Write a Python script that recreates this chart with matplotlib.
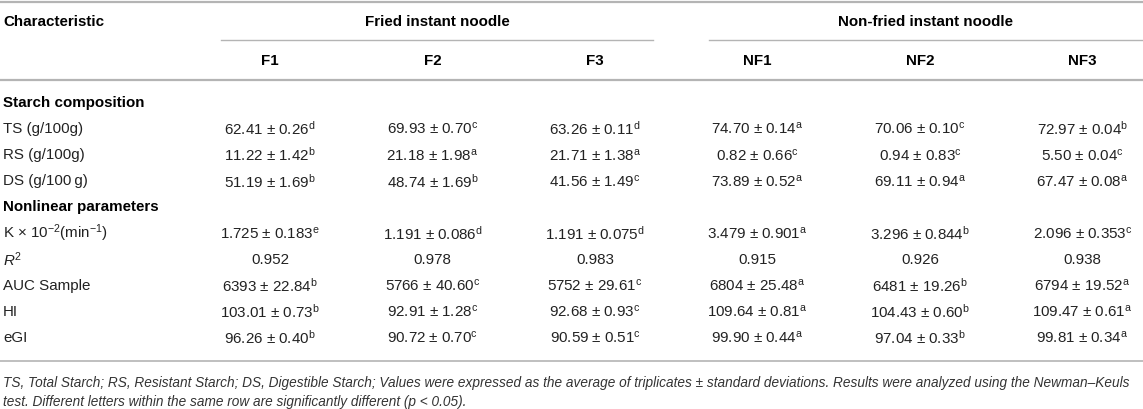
import matplotlib
matplotlib.use('Agg')
import matplotlib.pyplot as plt

plt.rcParams['font.family'] = ['Liberation Sans', 'DejaVu Sans']
plt.rcParams['mathtext.fontset'] = 'custom'
plt.rcParams['mathtext.rm'] = 'Liberation Sans'
plt.rcParams['mathtext.it'] = 'Liberation Sans:italic'
plt.rcParams['mathtext.bf'] = 'Liberation Sans:bold'

# Table data
columns = ['F1', 'F2', 'F3', 'NF1', 'NF2', 'NF3']
groups = ['Fried instant noodle', 'Non-fried instant noodle']

ts_mean = [62.41, 69.93, 63.26, 74.70, 70.06, 72.97]
ts_sd = [0.26, 0.70, 0.11, 0.14, 0.10, 0.04]
ts_sig = ['d', 'c', 'd', 'a', 'c', 'b']

rs_mean = [11.22, 21.18, 21.71, 0.82, 0.94, 5.50]
rs_sd = [1.42, 1.98, 1.38, 0.66, 0.83, 0.04]
rs_sig = ['b', 'a', 'a', 'c', 'c', 'c']

ds_mean = [51.19, 48.74, 41.56, 73.89, 69.11, 67.47]
ds_sd = [1.69, 1.69, 1.49, 0.52, 0.94, 0.08]
ds_sig = ['b', 'b', 'c', 'a', 'a', 'a']

k_mean = [1.725, 1.191, 1.191, 3.479, 3.296, 2.096]
k_sd = [0.183, 0.086, 0.075, 0.901, 0.844, 0.353]
k_sig = ['e', 'd', 'd', 'a', 'b', 'c']

r2 = [0.952, 0.978, 0.983, 0.915, 0.926, 0.938]

auc_mean = [6393, 5766, 5752, 6804, 6481, 6794]
auc_sd = [22.84, 40.60, 29.61, 25.48, 19.26, 19.52]
auc_sig = ['b', 'c', 'c', 'a', 'b', 'a']

hi_mean = [103.01, 92.91, 92.68, 109.64, 104.43, 109.47]
hi_sd = [0.73, 1.28, 0.93, 0.81, 0.60, 0.61]
hi_sig = ['b', 'c', 'c', 'a', 'b', 'a']

egi_mean = [96.26, 90.72, 90.59, 99.90, 97.04, 99.81]
egi_sd = [0.40, 0.70, 0.51, 0.44, 0.33, 0.34]
egi_sig = ['b', 'c', 'c', 'a', 'b', 'a']

footnote = ['TS, Total Starch; RS, Resistant Starch; DS, Digestible Starch; Values were expressed as the average of triplicates \u00b1 standard deviations. Results were analyzed using the Newman\u2013Keuls',
            'test. Different letters within the same row are significantly different (p < 0.05).']


def cells(mean, sd, sig, fmt_m, fmt_s):
    return [f'{m:{fmt_m}} \u00b1 {s:{fmt_s}}$^{{\\rm {g}}}$' for m, s, g in zip(mean, sd, sig)]


# (label, cells or None for section header)
rows = [
    ('Starch composition', None),
    ('TS (g/100g)', cells(ts_mean, ts_sd, ts_sig, '.2f', '.2f')),
    ('RS (g/100g)', cells(rs_mean, rs_sd, rs_sig, '.2f', '.2f')),
    ('DS (g/100\u2009g)', cells(ds_mean, ds_sd, ds_sig, '.2f', '.2f')),
    ('Nonlinear parameters', None),
    ('K \u00d7 10$^{\u22122}$(min$^{\u22121}$)', cells(k_mean, k_sd, k_sig, '.3f', '.3f')),
    ('$R^{\\rm 2}$', [f'{v:.3f}' for v in r2]),
    ('AUC Sample', cells(auc_mean, auc_sd, auc_sig, '.0f', '.2f')),
    ('HI', cells(hi_mean, hi_sd, hi_sig, '.2f', '.2f')),
    ('eGI', cells(egi_mean, egi_sd, egi_sig, '.2f', '.2f')),
]

W, H = 1143, 410
fig = plt.figure(figsize=(W / 100, H / 100), dpi=100)
ax = fig.add_axes([0, 0, 1, 1])
ax.set_xlim(0, W)
ax.set_ylim(H, 0)
ax.axis('off')

fs = 10.9
line_col = '#b4b4b4'
txt_col = '#222222'
col_x = [270 + 162.5 * i for i in range(6)]

# rules
ax.plot([0, W], [3, 3], color=line_col, lw=1.6)
ax.plot([221, 653], [41, 41], color=line_col, lw=1.0)
ax.plot([709, W], [41, 41], color=line_col, lw=1.0)
ax.plot([0, W], [81, 81], color=line_col, lw=1.6)
ax.plot([0, W], [362, 362], color=line_col, lw=1.2)

# header
ax.text(3, 22, 'Characteristic', fontsize=fs, fontweight='bold', va='center', ha='left')
ax.text(437, 22, groups[0], fontsize=fs, fontweight='bold', va='center', ha='center')
ax.text(926, 22, groups[1], fontsize=fs, fontweight='bold', va='center', ha='center')
for x, c in zip(col_x, columns):
    ax.text(x, 61, c, fontsize=fs, fontweight='bold', va='center', ha='center')

# body
y0, dy = 103, 26.1
for i, (label, vals) in enumerate(rows):
    y = y0 + dy * i
    if vals is None:
        ax.text(3, y, label, fontsize=fs, fontweight='bold', va='center', ha='left')
        continue
    ax.text(3, y, label, fontsize=fs, va='center', ha='left', color=txt_col)
    for x, v in zip(col_x, vals):
        ax.text(x, y, v, fontsize=fs, va='center', ha='center', color=txt_col)

# footnote
for j, t in enumerate(footnote):
    ax.text(3, 383 + 19 * j, t, fontsize=9.8, style='italic', va='center', ha='left', color='#333333')

fig.savefig('out.png', dpi=100)
